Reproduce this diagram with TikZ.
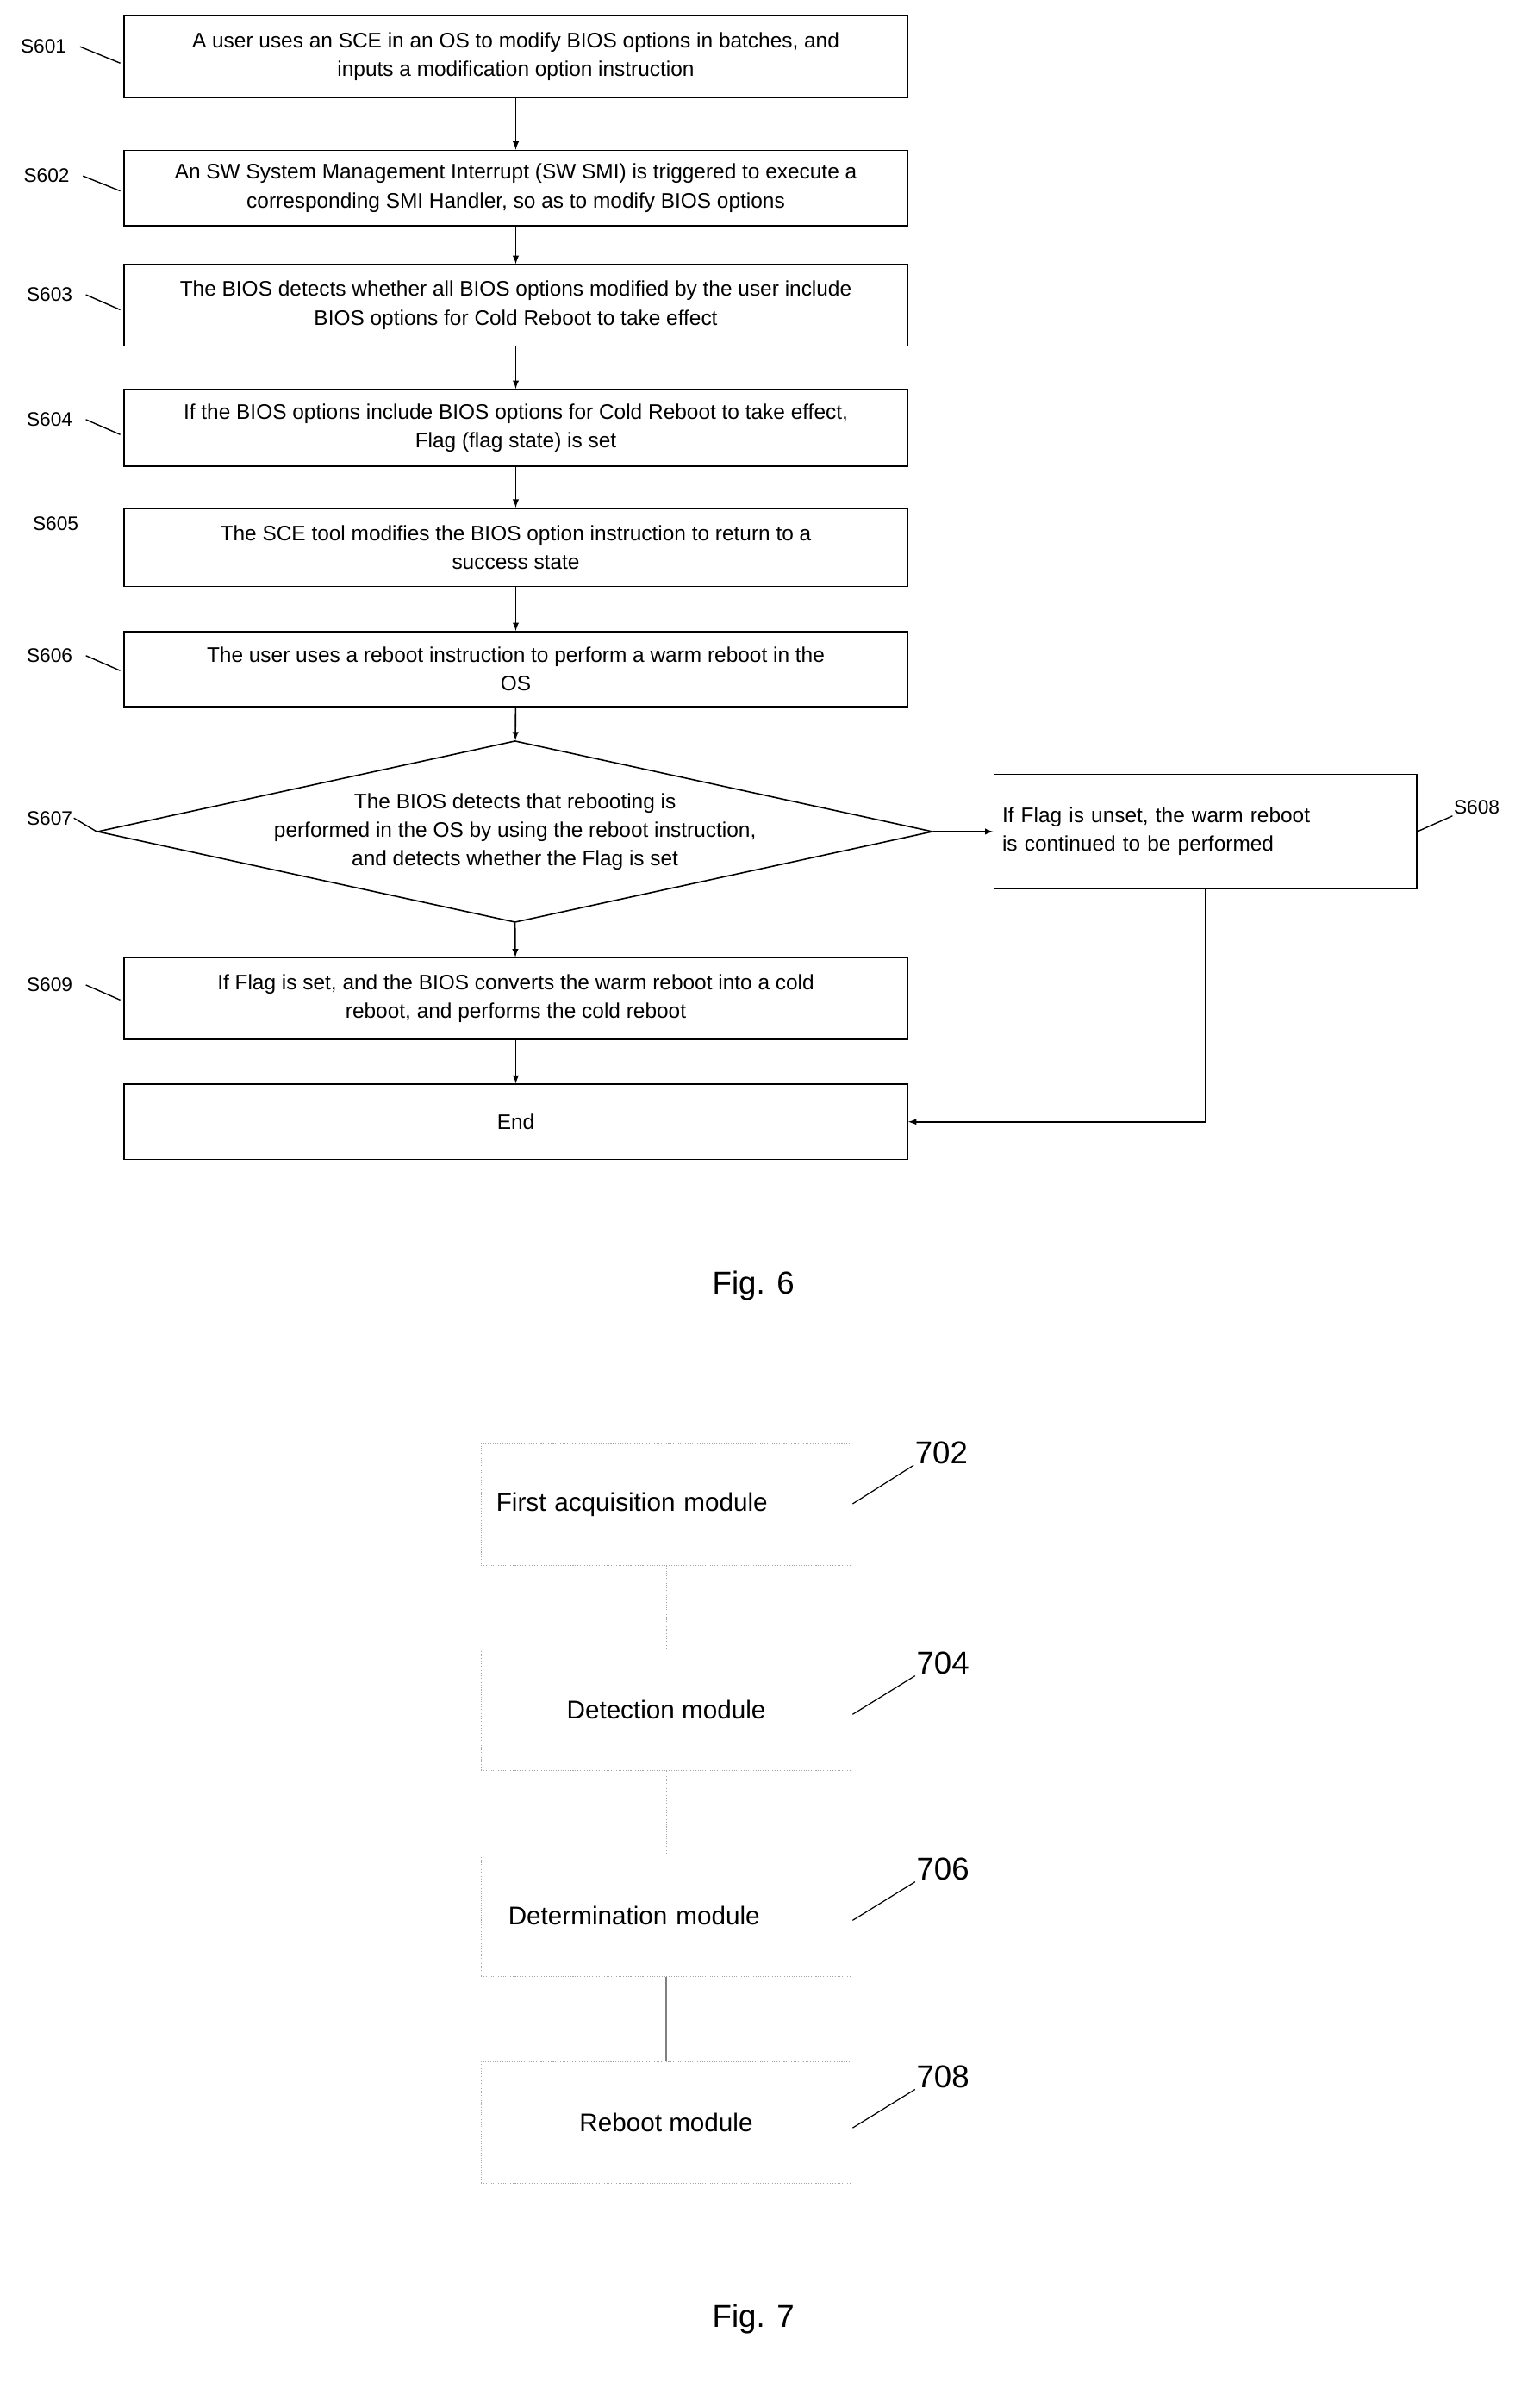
\documentclass[tikz,border=0pt]{standalone}
\usepackage{fontspec}
\setmainfont{Liberation Sans}
\usetikzlibrary{shapes.geometric}
\tikzset{
  stepbox/.style={draw, line width=0.9pt, minimum width=521pt, align=center, inner sep=2pt, font=\fontsize{14}{19}\selectfont},
  tag/.style={font=\fontsize{13}{15}\selectfont, inner sep=0.75pt},
  flow/.style={-latex, line width=0.9pt},
  modbox/.style={draw=gray!70, line width=0.6pt, densely dotted, minimum width=246pt, minimum height=81pt, font=\fontsize{17}{20}\selectfont},
  modtag/.style={font=\fontsize{21}{24}\selectfont, inner sep=0.75pt},
}
\begin{document}
\begin{tikzpicture}[x=1pt,y=1pt,yscale=-1,xscale=1]
	\useasboundingbox (0,0) rectangle (1024,1588);
	
	% Fig. 6 boxes
	\node [stepbox, minimum height=55pt] (s601) at (343,37.5) {A user uses an SCE in an OS to modify BIOS options in batches, and\\inputs a modification option instruction};
	\node [stepbox, minimum height=50pt] (s602) at (343,125) {An SW System Management Interrupt (SW SMI) is triggered to execute a\\corresponding SMI Handler, so as to modify BIOS options};
	\node [stepbox, minimum height=54pt] (s603) at (343,203) {The BIOS detects whether all BIOS options modified by the user include\\BIOS options for Cold Reboot to take effect};
	\node [stepbox, minimum height=51pt] (s604) at (343,284.5) {If the BIOS options include BIOS options for Cold Reboot to take effect,\\Flag (flag state) is set};
	\node [stepbox, minimum height=52pt] (s605) at (343,364) {The SCE tool modifies the BIOS option instruction to return to a\\success state};
	\node [stepbox, minimum height=50pt] (s606) at (343,445) {The user uses a reboot instruction to perform a warm reboot in the\\OS};
	\node [draw, line width=0.9pt, diamond, aspect=4.6, minimum width=549pt, minimum height=120pt, inner sep=0pt, align=center, font=\fontsize{14}{19}\selectfont] (s607) at (342.5,553) {The BIOS detects that rebooting is\\performed in the OS by using the reboot instruction,\\and detects whether the Flag is set};
	\node [draw, line width=0.9pt, minimum width=281pt, minimum height=76pt, align=left, text width=270pt, font=\fontsize{14}{19}\selectfont] (s608) at (801.5,553) {If Flag is unset, the warm reboot\\is continued to be performed};
	\node [stepbox, minimum height=54pt] (s609) at (343,664) {If Flag is set, and the BIOS converts the warm reboot into a cold\\reboot, and performs the cold reboot};
	\node [stepbox, minimum height=50pt] (end) at (343,746) {End};
	\coordinate (bend) at (801.5,746);
	
	% Fig. 6 arrows
	\draw [flow] (s601) -- (s602);
	\draw [flow] (s602) -- (s603);
	\draw [flow] (s603) -- (s604);
	\draw [flow] (s604) -- (s605);
	\draw [flow] (s605) -- (s606);
	\draw [flow] (s606) -- (s607);
	\draw [flow] (s607.east) -- (s608);
	\draw [flow] (s607.south) -- (s609);
	\draw [flow] (s609) -- (end);
	\draw [flow] (s608.south) -- (bend) -- (end.east);
	
	% Step labels
	\node [tag] (l601) at (29,31) {S601};
	\node [tag] (l602) at (31,117) {S602};
	\node [tag] (l603) at (33,196) {S603};
	\node [tag] (l604) at (33,279) {S604};
	\node [tag] (l605) at (37,348) {S605};
	\node [tag] (l606) at (33,436) {S606};
	\node [tag] (l607) at (33,544) {S607};
	\node [tag] (l609) at (33,655) {S609};
	\node [tag] (l608) at (982,537) {S608};
	\draw [line width=0.8pt] (l601.east) ++(8,0) -- (80,42);
	\draw [line width=0.8pt] (l602.east) ++(8,0) -- (80,127);
	\draw [line width=0.8pt] (l603.east) ++(8,0) -- (80,206);
	\draw [line width=0.8pt] (l604.east) ++(8,0) -- (80,289);
	\draw [line width=0.8pt] (l606.east) ++(8,0) -- (80,446);
	\draw [line width=0.8pt] (l609.east) ++(8,0) -- (80,665);
	\draw [line width=0.8pt] (l607.east) -- (s607.west);
	\draw [line width=0.8pt] (s608.east) -- (l608.south west);
	
	% Text Node
	\node [font=\fontsize{21}{24}\selectfont] (fig6) at (501,855) {Fig. 6};
	
	% Fig. 7 modules
	\node [modbox, text width=226pt, align=left] (m702) at (443,1000.5) {\raisebox{4pt}{First acquisition module}\\[22pt]};
	\node [modbox] (m704) at (443,1137) {Detection module};
	\node [modbox, text width=226pt, align=left] (m706) at (443,1274) {\hspace{8pt}Determination module};
	\node [modbox] (m708) at (443,1411.5) {Reboot module};
	\draw [gray!70, line width=0.6pt, densely dotted] (m702) -- (m704);
	\draw [gray!70, line width=0.6pt, densely dotted] (m704) -- (m706);
	\draw [gray, line width=0.8pt] (m706) -- (m708);
	
	% Module labels
	\node [modtag] (n702) at (626,966) {702};
	\node [modtag] (n704) at (627,1106) {704};
	\node [modtag] (n706) at (627,1243) {706};
	\node [modtag] (n708) at (627,1381) {708};
	\draw [line width=0.7pt] (567,1000) -- (n702.south west);
	\draw [line width=0.7pt] (567,1140) -- (n704.south west);
	\draw [line width=0.7pt] (567,1277) -- (n706.south west);
	\draw [line width=0.7pt] (567,1415) -- (n708.south west);
	
	% Text Node
	\node [font=\fontsize{21}{24}\selectfont] (fig7) at (501,1542) {Fig. 7};
\end{tikzpicture}
\end{document}
